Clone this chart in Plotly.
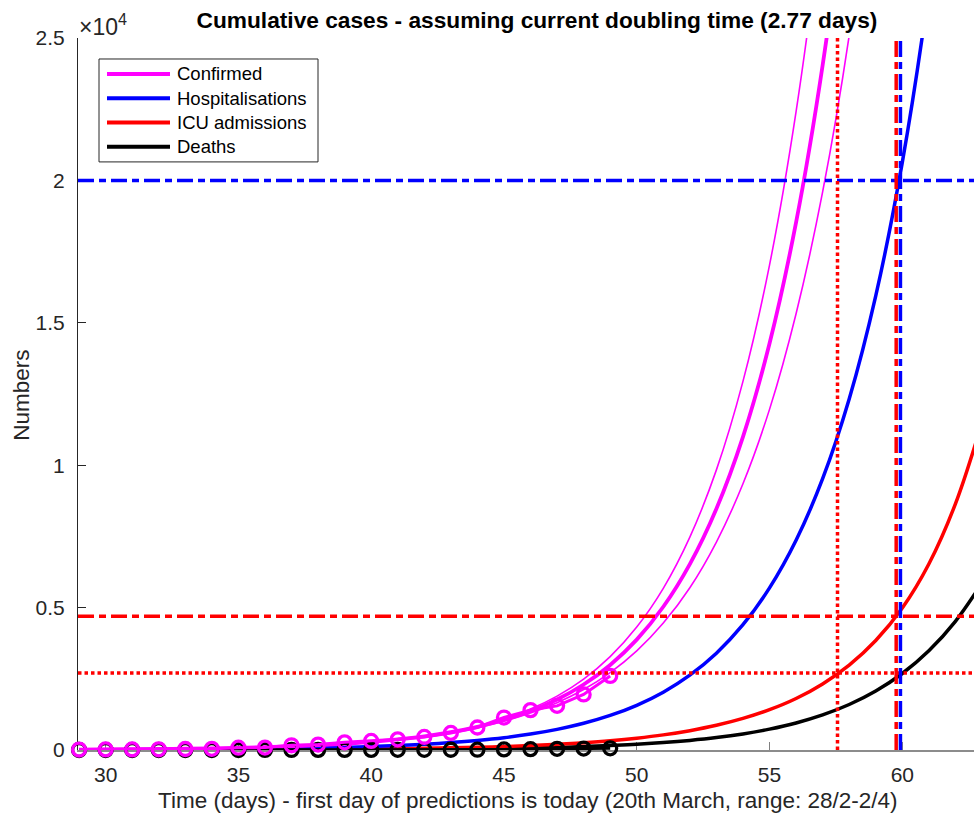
import plotly.graph_objects as go

# ---------------- data ----------------
data_days = list(range(29, 50))
confirmed = [15, 20, 20, 25, 35, 40, 80, 85, 165, 190, 270, 320, 375, 460, 600,
             790, 1140, 1400, 1550, 1950, 2600]
deaths = [0, 0, 0, 0, 0, 0, 0, 1, 1, 2, 2, 3, 5, 6, 8, 10, 20, 30, 40, 50, 60]

fit_start = 29
confirmed_fit = [16, 21, 27, 35, 46, 60, 78, 101, 131, 170, 220, 286, 371, 481, 625,
                 811, 1052, 1366, 1772, 2300, 2986, 3875, 5029, 6528, 8472, 10996,
                 14272, 18524, 24042, 31204, 40500]
confirmed_upper = [13.3, 17.7, 23.1, 30.4, 40.5, 53.6, 70.6, 92.7, 122, 160, 211, 277,
                   365, 480, 632, 831, 1093, 1440, 1893, 2491, 3279, 4317, 5678, 7475,
                   9836, 12942, 17026, 22414, 29500, 38800]
confirmed_lower = [19.2, 24.8, 31.5, 40.3, 52.2, 67.2, 86.2, 110, 141, 180, 230, 295,
                   377, 482, 618, 792, 1012, 1296, 1659, 2123, 2717, 3480, 4456, 5699,
                   7303, 9347, 11960, 15319, 19594, 25088, 32385]
hospital_fit = [7.0, 9.1, 11.8, 15.2, 19.7, 25.5, 33, 43, 55, 71, 92, 119, 155, 200, 259,
                335, 433, 560, 725, 938, 1213, 1570, 2031, 2628, 3400, 4399, 5692, 7364,
                9527, 12326, 15947, 20632, 26694, 34537]
icu_fit = [2.4, 3.1, 3.9, 5.1, 6.5, 8.3, 10.5, 13.5, 17.2, 22, 28.1, 35.9, 45.8, 58.6,
           74.8, 95.6, 122, 156, 199, 255, 325, 416, 531, 679, 867, 1108, 1415, 1808,
           2321, 2981, 3844, 4985, 6531, 8642, 11495]
deaths_fit = [0.9, 1.1, 1.4, 1.9, 2.4, 3.1, 4.1, 5.3, 6.8, 8.8, 11.5, 14.9, 19.3, 25,
              32.4, 42, 54.5, 70.6, 91.6, 119, 154, 200, 259, 336, 435, 564, 732, 949,
              1231, 1597, 2071, 2686, 3483, 4518, 5859]

hosp_capacity = 20000
icu_capacity = 4700
icu_capacity_low = 2700
hosp_full_day = 59.93
icu_full_day = 59.77
icu_low_full_day = 57.56

x_range = [28.96, 62.7]
y_range = [0, 25000]
y_ticks = [0, 5000, 10000, 15000, 20000, 25000]
y_ticktext = ["0", "0.5", "1", "1.5", "2", "2.5"]
x_ticks = [30, 35, 40, 45, 50, 55, 60]

legend_names = ["Confirmed", "Hospitalisations", "ICU admissions", "Deaths"]
legend_colors = ["#ff00ff", "#0000ff", "#ff0000", "#000000"]

title_text = "Cumulative cases - assuming current doubling time (2.77 days)"
x_title = "Time (days) - first day of predictions is today (20th March, range: 28/2-2/4)"
y_title = "Numbers"

MAG, BLUE, RED, BLACK = legend_colors
FONT = "Liberation Sans, Arial, Helvetica, sans-serif"
TXT = "#262626"
DASHDOT = "16px,5px,7px,5px"
DOT = "3.5px,3px"


def days_for(arr):
    return list(range(fit_start, fit_start + len(arr)))


fig = go.Figure()

# model curves
for arr, col, w in [(deaths_fit, BLACK, 3.5), (icu_fit, RED, 3.5), (hospital_fit, BLUE, 3.5),
                    (confirmed_upper, MAG, 1.6), (confirmed_lower, MAG, 1.6),
                    (confirmed_fit, MAG, 3.8)]:
    fig.add_trace(go.Scatter(x=days_for(arr), y=arr, mode="lines",
                             line=dict(color=col, width=w, shape="spline"),
                             showlegend=False, hoverinfo="skip"))

# observed data
for vals, col in [(deaths, BLACK), (confirmed, MAG)]:
    fig.add_trace(go.Scatter(x=data_days, y=vals, mode="lines+markers", cliponaxis=False,
                             line=dict(color=col, width=3),
                             marker=dict(symbol="circle-open", size=13, color=col,
                                         line=dict(width=3.3, color=col)),
                             showlegend=False))

# capacity lines (horizontal)
for val, col, dash in [(hosp_capacity, BLUE, DASHDOT), (icu_capacity, RED, DASHDOT),
                       (icu_capacity_low, RED, DOT)]:
    fig.add_trace(go.Scatter(x=x_range, y=[val, val], mode="lines",
                             line=dict(color=col, width=3.5, dash=dash),
                             showlegend=False, hoverinfo="skip"))
# crossing days (vertical)
for day, col, dash in [(icu_low_full_day, RED, DOT), (icu_full_day, RED, DASHDOT),
                       (hosp_full_day, BLUE, DASHDOT)]:
    fig.add_trace(go.Scatter(x=[day, day], y=y_range, mode="lines",
                             line=dict(color=col, width=3.5, dash=dash),
                             showlegend=False, hoverinfo="skip"))

# ---------------- layout ----------------
W, H = 974, 814
S_LEFT, S_TOP, S_BOTTOM = 78, 38, 750.5   # plot area in pixels
L, T = S_LEFT, S_TOP
B = H - S_BOTTOM
R = 0
PW, PH = W - L - R, H - T - B


def px(xs):
    return (xs - S_LEFT) / PW


def py(ys):
    return (S_BOTTOM - ys) / PH


fig.update_layout(
    width=W, height=H,
    margin=dict(l=L, r=R, t=T, b=B, pad=0, autoexpand=False),
    paper_bgcolor="white", plot_bgcolor="white",
    font=dict(family=FONT, size=21, color=TXT),
    showlegend=False,
    hovermode=False,
    title=dict(text="<b>" + title_text + "</b>",
               x=537 / W, y=1 - 20 / H, xanchor="center", yanchor="middle",
               font=dict(family=FONT, size=22.7, color="#000000")),
    xaxis=dict(range=x_range, tickvals=x_ticks, ticks="inside", ticklen=8,
               tickcolor="#808080", showline=True, linecolor="#8c8c8c", linewidth=1.5,
               showgrid=False, zeroline=False, layer="below traces", automargin=False,
               tickfont=dict(size=21, color=TXT), ticklabelstandoff=5),
    yaxis=dict(range=y_range, tickvals=y_ticks, ticktext=y_ticktext, ticks="inside",
               ticklen=8, tickcolor=TXT, showline=True, linecolor=TXT, linewidth=1,
               showgrid=False, zeroline=False, layer="below traces", automargin=False,
               tickfont=dict(size=21, color=TXT), ticklabelstandoff=8),
)

# axis titles
fig.add_annotation(x=px(527), y=py(801), xref="paper", yref="paper", xanchor="center",
                   yanchor="middle", showarrow=False, text=x_title,
                   font=dict(size=22.5, color=TXT))
fig.add_annotation(x=px(22), y=py(396), xref="paper", yref="paper", xanchor="center",
                   yanchor="middle", showarrow=False, text=y_title, textangle=-90,
                   font=dict(size=22.5, color=TXT))

# exponent label
fig.add_annotation(x=px(77), y=py(25), xref="paper", yref="paper", xanchor="left",
                   yanchor="middle", showarrow=False, text="×10<sup>4</sup>",
                   font=dict(size=23, color=TXT))

# manual legend (MATLAB style)
fig.add_shape(type="rect", xref="paper", yref="paper", x0=px(99), x1=px(318),
              y0=py(59), y1=py(162), line=dict(color=TXT, width=1), fillcolor="white")
for i, (name, col) in enumerate(zip(legend_names, legend_colors)):
    yy = 74 + i * 24.3
    fig.add_shape(type="line", xref="paper", yref="paper", x0=px(107), x1=px(170),
                  y0=py(yy), y1=py(yy), line=dict(color=col, width=4))
    fig.add_annotation(x=px(175), y=py(yy), xref="paper", yref="paper", xanchor="left",
                       yanchor="middle", showarrow=False, text=name,
                       font=dict(size=18.5, color="#000000"))

# remove the default 8 px page margin so the figure fills the window exactly
fig.write_html("out.html",
               config={"displayModeBar": False},
               post_script="document.body.style.margin='0';document.body.style.overflow='hidden';")
